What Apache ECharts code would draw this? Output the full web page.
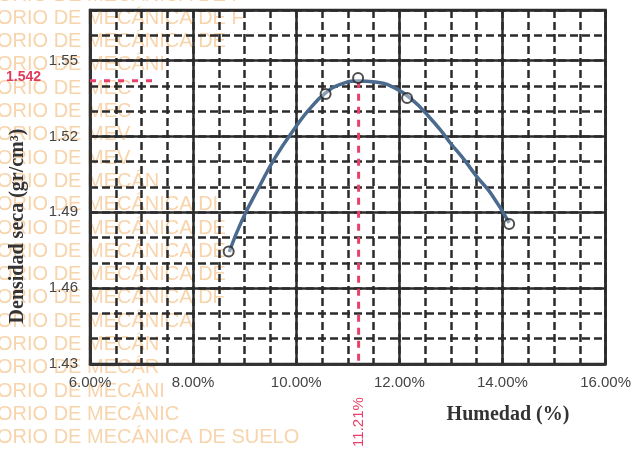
<!DOCTYPE html>
<html>
<head>
<meta charset="utf-8">
<script src="https://cdn.jsdelivr.net/npm/echarts@6/dist/echarts.min.js"></script>
<style>html,body{margin:0;padding:0;background:#fff;}#c{width:634px;height:450px;}</style>
</head>
<body>
<div id="c"></div>
<script>
// ---- data ----
var moisture = [8.69, 10.57, 11.20, 12.15, 14.13];          // Humedad (%) - test points
var dryDensity = [1.4745, 1.5368, 1.5431, 1.5352, 1.4854];  // Densidad seca (gr/cm3)
// fitted compaction curve
var curveMoisture = [8.70, 8.95, 9.28, 9.60, 9.99, 10.24, 10.57, 10.87, 11.20, 11.53, 11.92, 12.30, 12.51, 12.80, 12.99, 13.26, 13.51, 13.77, 14.13];
var curveDensity = [1.4743, 1.4869, 1.5000, 1.5119, 1.5237, 1.5304, 1.5372, 1.5407, 1.5419, 1.5415, 1.5391, 1.5336, 1.5292, 1.5225, 1.5174, 1.5107, 1.5039, 1.4976, 1.4858];
var optimumMoisture = 11.21;
var maxDensity = 1.542;
var densityGuideEnd = 7.35;
var xTicks = [6, 8, 10, 12, 14, 16];
var yTicks = [1.43, 1.46, 1.49, 1.52, 1.55];
var watermarkRows = [
  "ORIO DE MECÁNICA DE F",
  "ORIO DE MECÁNICA DE F",
  "ORIO DE MECÁNICA DE",
  "ORIO DE MECÁNI",
  "ORIO DE MEC",
  "ORIO DE MEC",
  "ORIO DE MEV",
  "ORIO DE MEV",
  "ORIO DE MECÁN",
  "ORIO DE MECÁNICA DI",
  "ORIO DE MECÁNICA DE",
  "ORIO DE MECÁNICA DE",
  "ORIO DE MECÁNICA DE",
  "ORIO DE MECÁNICA DF",
  "ORIO DE MECÁNICA",
  "ORIO DE MECÁN",
  "ORIO DE MECÁR",
  "ORIO DE MECÁNI",
  "ORIO DE MECÁNIC",
  "ORIO DE MECÁNICA DE SUELO"
];

var pointData = moisture.map(function (x, i) { return [x, dryDensity[i]]; });
var curveData = curveMoisture.map(function (x, i) { return [x, curveDensity[i]]; });
var hGuide = [[xTicks[0], maxDensity], [densityGuideEnd, maxDensity]];
var vGuide = [[optimumMoisture, maxDensity], [optimumMoisture, yTicks[0]]];

var chart = echarts.init(document.getElementById('c'));
var gridColor = '#2b2b2b';
var xMin = xTicks[0], xMax = xTicks[xTicks.length - 1];
var yMin = yTicks[0], yMax = 1.57;

var wm = watermarkRows.map(function (t, i) {
  return {
    type: 'text', x: -3, y: -5 + 23.3 * i, z: 0,
    style: { text: t, fill: 'rgb(248,212,172)', font: '20px "Liberation Sans", Arial, sans-serif', verticalAlign: 'middle' }
  };
});

var option = {
  animation: false,
  backgroundColor: '#fff',
  grid: { left: 90, right: 25, top: 10, bottom: 86, show: true, borderColor: '#333', borderWidth: 2.5, backgroundColor: 'transparent', z: 1 },
  xAxis: [
    {
      type: 'value', min: xMin, max: xMax, interval: 2, z: 3,
      axisLine: { show: true, onZero: false, lineStyle: { color: '#333', width: 2.5 } },
      axisTick: { show: false },
      axisLabel: { color: '#444', fontSize: 15, fontFamily: '"Liberation Sans", Arial', margin: 11,
        formatter: function (v) { return v.toFixed(2) + '%'; } },
      splitLine: { show: true, lineStyle: { color: gridColor, width: 2.5, type: 'solid' } }
    },
    {
      type: 'value', min: xMin, max: xMax, interval: 0.5, z: 2, position: 'bottom',
      axisLine: { show: false }, axisTick: { show: false }, axisLabel: { show: false },
      splitLine: { show: true, lineStyle: { color: gridColor, width: 2.5, type: [8, 4] } }
    }
  ],
  yAxis: [
    {
      type: 'value', min: yMin, max: yMax, interval: 0.03, z: 3,
      axisLine: { show: true, onZero: false, lineStyle: { color: '#333', width: 2.5 } },
      axisTick: { show: false },
      axisLabel: { color: '#444', fontSize: 15, fontFamily: '"Liberation Sans", Arial', margin: 12,
        formatter: function (v) { return v > 1.56 ? '' : v.toFixed(2); } },
      splitLine: { show: true, lineStyle: { color: gridColor, width: 2.5, type: 'solid' } }
    },
    {
      type: 'value', min: yMin, max: yMax, interval: 0.01, z: 2, position: 'left',
      axisLine: { show: false }, axisTick: { show: false }, axisLabel: { show: false },
      splitLine: { show: true, lineStyle: { color: gridColor, width: 2.5, type: [8, 4] } }
    }
  ],
  series: [
    {
      type: 'line', xAxisIndex: 0, yAxisIndex: 0, data: vGuide, z: 4, symbol: 'none',
      lineStyle: { color: '#e8406a', width: 3, type: [7, 6] }
    },
    {
      type: 'line', xAxisIndex: 0, yAxisIndex: 0, data: hGuide, z: 4, symbol: 'none',
      lineStyle: { color: '#e8406a', width: 3, type: [6, 8] }
    },
    {
      type: 'line', xAxisIndex: 0, yAxisIndex: 0, data: curveData, z: 5, smooth: true,
      symbol: 'none',
      lineStyle: { color: '#4a6a8e', width: 3.5 }
    },
    {
      type: 'scatter', xAxisIndex: 0, yAxisIndex: 0, data: pointData, z: 6,
      symbol: 'circle', symbolSize: 10,
      itemStyle: { color: 'rgba(255,255,255,0.45)', borderColor: '#222', borderWidth: 2 }
    }
  ],
  graphic: wm
};
chart.setOption(option);

var pY = chart.convertToPixel({ xAxisIndex: 0, yAxisIndex: 0 }, [xMin, maxDensity]);
var pX = chart.convertToPixel({ xAxisIndex: 0, yAxisIndex: 0 }, [optimumMoisture, yMin]);
var extra = wm.concat([
  { type: 'text', x: 41, y: pY[1] - 4, z: 10,
    style: { text: maxDensity.toFixed(3), fill: '#e03a5c', font: 'bold 14px "Liberation Sans", Arial', align: 'right', verticalAlign: 'middle' } },
  { type: 'text', x: pX[0], y: pX[1] + 58, rotation: Math.PI / 2, z: 10,
    style: { text: optimumMoisture.toFixed(2) + '%', fill: '#e8406a', font: '15px "Liberation Sans", Arial', align: 'center', verticalAlign: 'middle' } },
  { type: 'text', x: 18, y: 226, rotation: Math.PI / 2, z: 10,
    style: { text: 'Densidad seca (gr/cm³)', fill: '#333', font: 'bold 20px "Liberation Serif", "Times New Roman", serif', align: 'center', verticalAlign: 'middle' } },
  { type: 'text', x: 508, y: 415, z: 10,
    style: { text: 'Humedad (%)', fill: '#333', font: 'bold 20px "Liberation Serif", "Times New Roman", serif', align: 'center', verticalAlign: 'middle' } }
]);
chart.setOption({ graphic: extra });
</script>
</body>
</html>
